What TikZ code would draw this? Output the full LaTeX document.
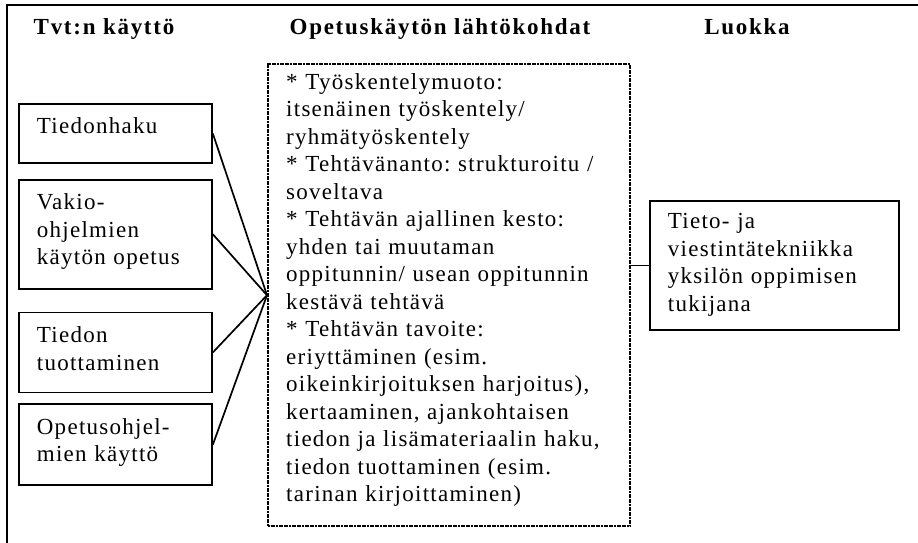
\documentclass[tikz,border=0pt]{standalone}
\usepackage{fontspec}
\setmainfont{Liberation Serif}[LetterSpace=5.5]
\newfontfamily\headfont{Liberation Serif}[LetterSpace=7.5]
\usetikzlibrary{positioning}
\frenchspacing

\begin{document}
\begin{tikzpicture}[
            x=1pt, y=1pt,
            head/.style={font=\headfont\bfseries\fontsize{23}{27.5}\selectfont, anchor=base, inner sep=0pt},
            box/.style={rectangle, draw, line width=1.8pt, anchor=north west, align=left,
                    font=\fontsize{23}{27.5}\selectfont, inner xsep=18pt, inner ysep=0pt, text height=30pt},
            lbox/.style={box, text width=157pt},
            dotbox/.style={box, dash pattern=on 2pt off 0.6pt, line width=2.4pt},
            link/.style={line width=1.7pt},
            ]

            \useasboundingbox (0,0) rectangle (918,-543);
            \draw[line width=2.6pt] (7,-543) -- (7,-5) -- (918,-5);

            \node[head] (hdtvt) at (104,-35) {Tvt:n käyttö};
            \node[head] (hdopetus) at (440,-35) {Opetuskäytön lähtökohdat};
            \node[head] (hdluokka) at (747,-35) {Luokka};

            \node[lbox, text depth=29pt] (haku) at (18,-103) {Tiedonhaku};
            \node[lbox, text depth=79pt, below=15pt of haku] (vakio) {Vakio-\\ohjelmien\\käytön opetus};
            \node[lbox, text depth=50pt, below=22pt of vakio] (tuotto) {Tiedon\\tuottaminen};
            \node[lbox, text depth=51pt, below=10pt of tuotto] (ohjelmat) {Opetusohjel-\\mien käyttö};

            \node[dotbox, text width=326pt, text height=25pt, text depth=437pt] (lahto) at (267,-63)
                {* Työskentelymuoto:\\itsenäinen työskentely/\\ryhmätyöskentely\\{}* Tehtävänanto: strukturoitu /\\soveltava\\{}* Tehtävän ajallinen kesto:\\yhden tai muutaman\\oppitunnin/ usean oppitunnin\\kestävä tehtävä\\{}* Tehtävän tavoite:\\eriyttäminen (esim.\\oikeinkirjoituksen harjoitus),\\kertaaminen, ajankohtaisen\\tiedon ja lisämateriaalin haku,\\tiedon tuottaminen (esim.\\tarinan kirjoittaminen)};

            \node[box, text width=213pt, text height=28pt, text depth=101pt] (luokka) at (649,-200)
                {Tieto- ja\\viestintätekniikka\\yksilön oppimisen\\tukijana};

            \draw[link] (haku.east) -- (lahto.west);
            \draw[link] (vakio.east) -- (lahto.west);
            \draw[link] (tuotto.east) -- (lahto.west);
            \draw[link] (ohjelmat.east) -- (lahto.west);
            \draw[link] (luokka.west) -- (luokka.west -| lahto.east);

        \end{tikzpicture}
\end{document}
